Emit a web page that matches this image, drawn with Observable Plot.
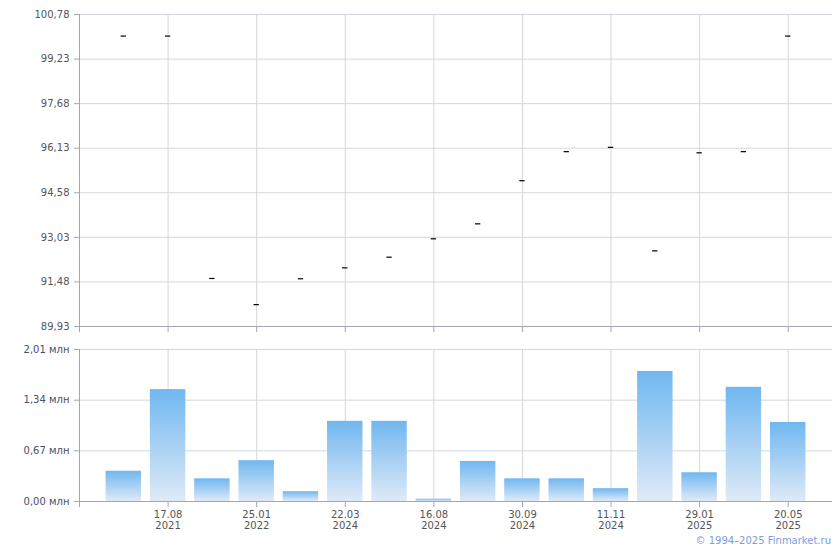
<!DOCTYPE html>
<html>
<head>
<meta charset="utf-8">
<script src="https://cdn.jsdelivr.net/npm/d3@7"></script>
<script src="https://cdn.jsdelivr.net/npm/@observablehq/plot@0.6"></script>
<style>
  html, body { margin: 0; padding: 0; background: #fff; }
  #wrap { position: relative; width: 840px; height: 550px; font-family: "DejaVu Sans", Verdana, sans-serif; }
  #wrap svg { display: block; }
  #caption { position: absolute; right: 9px; top: 535px; font-size: 10px; color: #7b9de0; font-family: "DejaVu Sans", Verdana, sans-serif; }
</style>
</head>
<body>
<div id="wrap"><div id="topPanel"></div><div id="bottomPanel"></div><div id="caption">© 1994–2025 Finmarket.ru</div></div>
<script>
// Data
const prices = [100.03, 100.03, 91.60, 90.69, 91.59, 91.97, 92.34, 92.98, 93.50, 95.00, 96.01, 96.16, 92.56, 95.97, 96.01, 100.03];
const volumes = [0.40, 1.48, 0.30, 0.54, 0.13, 1.06, 1.06, 0.03, 0.53, 0.30, 0.30, 0.17, 1.72, 0.38, 1.51, 1.045]; // млн
const tickDates = ["17.08", "25.01", "22.03", "16.08", "30.09", "11.11", "29.01", "20.05"];
const tickYears = ["2021", "2022", "2024", "2024", "2024", "2024", "2025", "2025"];
const priceTicks = [89.93, 91.48, 93.03, 94.58, 96.13, 97.68, 99.23, 100.78];
const volumeTicks = [0, 0.67, 1.34, 2.01];

const priceData = prices.map((v, i) => ({i, v}));
const volData = volumes.map((v, i) => ({i, v}));
const labelPos = tickDates.map((d, k) => 2 * k + 1);
const tickPos = [-1, ...labelPos];
const labelMap = new Map(labelPos.map((p, k) => [p, tickDates[k] + "\n" + tickYears[k]]));

const gridColor = "#d3d7dd";
const axisColor = "#a3a6b0";
const textColor = "#555";
const font = "DejaVu Sans, Verdana, sans-serif";
const fmt = d => d.toFixed(2).replace(".", ",");

const priceChart = Plot.plot({
  width: 840, height: 340,
  marginLeft: 79, marginRight: 8, marginTop: 14, marginBottom: 14,
  style: {fontFamily: font, fontSize: "10px", background: "white"},
  x: {domain: [-1, 16], axis: null},
  y: {domain: [89.93, 100.78], axis: null},
  marks: [
    Plot.gridY(priceTicks, {stroke: gridColor, strokeOpacity: 1}),
    Plot.gridX(labelPos, {stroke: gridColor, strokeOpacity: 1}),
    Plot.ruleX([-1], {stroke: axisColor}),
    Plot.ruleY([89.93], {stroke: axisColor}),
    Plot.axisY(priceTicks, {tickSize: 5, tickPadding: 5, tickFormat: fmt, stroke: axisColor, fill: textColor, label: null}),
    Plot.axisX(tickPos, {tickSize: 6, tickFormat: () => "", stroke: axisColor, label: null}),
    Plot.ruleY(priceData, {y: "v", x1: d => d.i - 0.06, x2: d => d.i + 0.06, stroke: "#000", strokeWidth: 1.2})
  ]
});

const volumeChart = Plot.plot({
  width: 840, height: 200,
  marginLeft: 79, marginRight: 8, marginTop: 9, marginBottom: 39,
  style: {fontFamily: font, fontSize: "10px", background: "white"},
  x: {domain: [-1, 16], axis: null},
  y: {domain: [0, 2.01], axis: null},
  marks: [
    () => {
      const defs = d3.create("svg:defs");
      const g = defs.append("linearGradient").attr("id", "barGrad").attr("x1", 0).attr("y1", 0).attr("x2", 0).attr("y2", 1);
      g.append("stop").attr("offset", "0%").attr("stop-color", "#70b7f0");
      g.append("stop").attr("offset", "100%").attr("stop-color", "#dfeaf7");
      return defs.node();
    },
    Plot.gridY(volumeTicks, {stroke: gridColor, strokeOpacity: 1}),
    Plot.gridX(labelPos, {stroke: gridColor, strokeOpacity: 1}),
    Plot.rect(volData, {x1: d => d.i - 0.4, x2: d => d.i + 0.4, y1: 0, y2: "v", fill: "url(#barGrad)"}),
    Plot.ruleX([-1], {stroke: axisColor}),
    Plot.ruleY([0], {stroke: axisColor}),
    Plot.axisY(volumeTicks, {tickSize: 5, tickPadding: 5, tickFormat: d => fmt(d) + " млн", stroke: axisColor, fill: "#4d4d66", label: null}),
    Plot.axisX(tickPos, {tickSize: 6, tickPadding: 2, tickFormat: d => labelMap.get(d) || "", stroke: axisColor, fill: textColor, lineHeight: 1.15, label: null})
  ]
});

document.getElementById("topPanel").appendChild(priceChart);
document.getElementById("bottomPanel").appendChild(volumeChart);
</script>
</body>
</html>
